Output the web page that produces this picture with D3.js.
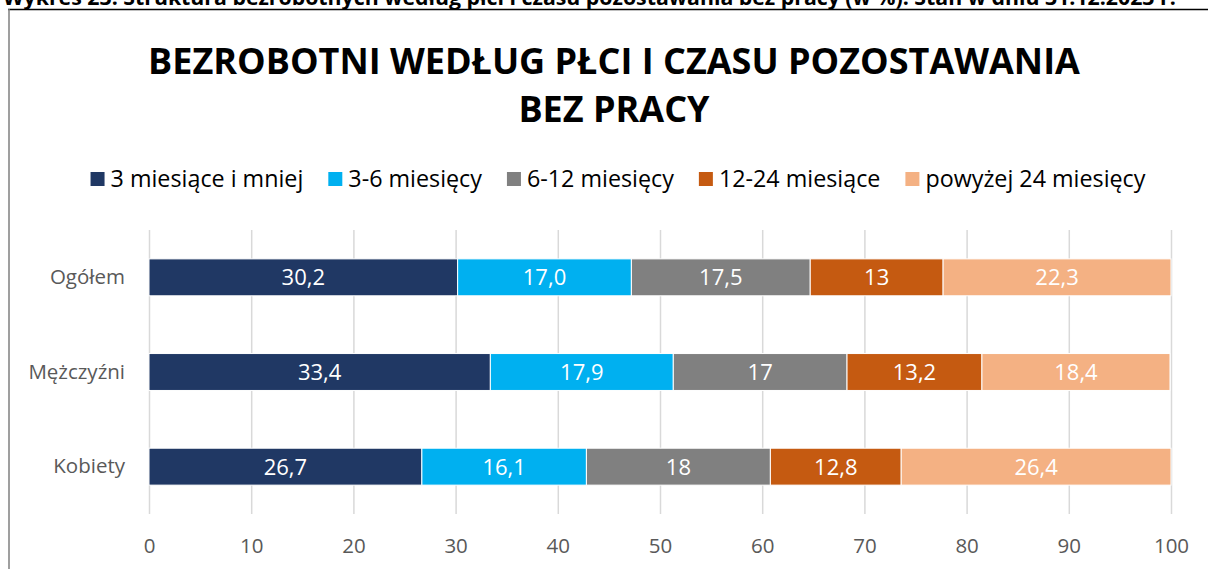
<!DOCTYPE html>
<html><head><meta charset="utf-8">
<script src="https://cdn.jsdelivr.net/npm/d3@7"></script>
<style>body{margin:0;background:#fff}svg{display:block}</style>
</head><body>
<script>
const categories = ["Ogółem", "Mężczyźni", "Kobiety"];
const seriesNames = ["3 miesiące i mniej", "3-6 miesięcy", "6-12 miesięcy", "12-24 miesiące", "powyżej 24 miesięcy"];
const v3less = [30.2, 33.4, 26.7];
const v3to6 = [17.0, 17.9, 16.1];
const v6to12 = [17.5, 17, 18];
const v12to24 = [13, 13.2, 12.8];
const v24plus = [22.3, 18.4, 26.4];
const labels3less = ["30,2", "33,4", "26,7"];
const labels3to6 = ["17,0", "17,9", "16,1"];
const labels6to12 = ["17,5", "17", "18"];
const labels12to24 = ["13", "13,2", "12,8"];
const labels24plus = ["22,3", "18,4", "26,4"];
const xTicks = [0, 10, 20, 30, 40, 50, 60, 70, 80, 90, 100];
const colors = ["#203864", "#00B0F0", "#808080", "#C55A11", "#F4B183"];

const series = [v3less, v3to6, v6to12, v12to24, v24plus];
const seriesLabels = [labels3less, labels3to6, labels6to12, labels12to24, labels24plus];

const W = 1208, H = 569;
const svg = d3.select("body").append("svg").attr("width", W).attr("height", H);
const font = "'Open Sans', sans-serif";

// caption cut off at top
svg.append("text").attr("x", 3).attr("y", 4.5)
  .attr("font-family", font).attr("font-weight", "bold").attr("font-size", 21.3)
  .attr("fill", "#000")
  .text("Wykres 23. Struktura bezrobotnych według płci i czasu pozostawania bez pracy (w %). Stan w dniu 31.12.2023 r.");

// frame
svg.append("line").attr("x1", 8).attr("x2", W).attr("y1", 9.5).attr("y2", 9.5).attr("stroke", "#000").attr("stroke-width", 1.5);
svg.append("line").attr("x1", 9).attr("x2", 9).attr("y1", 9).attr("y2", H).attr("stroke", "#7f7f7f").attr("stroke-width", 1.5);

// title
const title = svg.append("text").attr("text-anchor", "middle")
  .attr("font-family", font).attr("font-weight", "bold").attr("font-size", 36).attr("fill", "#000");
title.append("tspan").attr("x", 614).attr("y", 74).text("BEZROBOTNI WEDŁUG PŁCI I CZASU POZOSTAWANIA");
title.append("tspan").attr("x", 614).attr("y", 122).text("BEZ PRACY");

const x = d3.scaleLinear().domain([0, 100]).range([149, 1171]);
const y = d3.scaleBand().domain(categories).range([230, 514]).paddingInner(0.61).paddingOuter(0.305);

// grid
const xAxis = svg.append("g").attr("transform", "translate(0,514)")
  .call(d3.axisBottom(x).tickValues(xTicks).tickSize(-284).tickPadding(24));
xAxis.select(".domain").remove();
xAxis.selectAll(".tick line").attr("stroke", "#d9d9d9").attr("stroke-width", 1.5);
xAxis.selectAll(".tick text").attr("font-family", font).attr("font-size", 20.5).attr("fill", "#595959");

// y labels
const yAxis = svg.append("g").attr("transform", "translate(149,0)")
  .call(d3.axisLeft(y).tickSize(0).tickPadding(24));
yAxis.select(".domain").remove();
yAxis.selectAll(".tick text").attr("font-family", font).attr("font-size", 20.5).attr("fill", "#595959");

// stacked data
const rows = categories.map((c, i) => {
  const o = { cat: c };
  seriesNames.forEach((s, j) => o[s] = series[j][i]);
  return o;
});
const stack = d3.stack().keys(seriesNames)(rows);

stack.forEach((layer, j) => {
  const g = svg.append("g");
  g.selectAll("rect").data(layer).join("rect")
    .attr("x", d => x(d[0])).attr("width", d => x(d[1]) - x(d[0]))
    .attr("y", d => y(d.data.cat)).attr("height", y.bandwidth())
    .attr("fill", colors[j]).attr("stroke", "#fff").attr("stroke-width", 1);
  g.selectAll("text").data(layer).join("text")
    .attr("x", d => (x(d[0]) + x(d[1])) / 2)
    .attr("y", d => y(d.data.cat) + y.bandwidth() / 2)
    .attr("dy", "0.36em").attr("text-anchor", "middle")
    .attr("font-family", font).attr("font-size", 22).attr("fill", "#fff")
    .text((d, i) => seriesLabels[j][i]);
});

// legend
const leg = svg.append("g");
let cx = 0;
seriesNames.forEach((s, j) => {
  const it = leg.append("g").attr("transform", `translate(${cx},0)`);
  it.append("rect").attr("x", 0).attr("y", -15).attr("width", 14).attr("height", 14).attr("fill", colors[j]);
  const t = it.append("text").attr("x", 20).attr("y", 0)
    .attr("font-family", font).attr("font-size", 23.3).attr("fill", "#000").text(s);
  cx += 20 + t.node().getComputedTextLength() + 25;
});
const legW = cx - 25;
leg.attr("transform", `translate(${618 - legW / 2},187)`);
</script>
</body></html>
